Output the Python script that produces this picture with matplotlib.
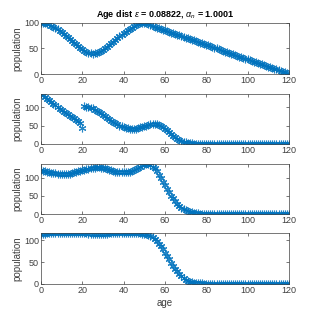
import numpy as np
import matplotlib.pyplot as plt

plt.rcParams['font.family'] = ['Liberation Sans Narrow', 'Liberation Sans', 'DejaVu Sans']
plt.rcParams['mathtext.fontset'] = 'custom'
plt.rcParams['mathtext.rm'] = 'Liberation Sans'
plt.rcParams['mathtext.it'] = 'Liberation Sans:italic'

age = np.arange(0, 121)

# population by age
pop1 = [100, 100, 99, 98, 97, 95, 93, 90, 88, 85,
        82, 79, 75, 72, 68, 65, 61, 58, 54, 51,
        49, 46, 44, 42, 41, 40, 41, 41, 43, 45,
        48, 50, 53, 56, 60, 63, 67, 70, 74, 77,
        80, 83, 86, 89, 91, 94, 96, 97, 99, 100,
        100, 99, 97, 96, 94, 93, 91, 90, 89, 87,
        86, 84, 83, 81, 80, 79, 77, 76, 74, 73,
        71, 70, 69, 67, 66, 64, 63, 61, 60, 59,
        57, 56, 54, 53, 51, 50, 49, 47, 46, 44,
        43, 41, 40, 39, 37, 36, 34, 33, 31, 30,
        29, 27, 26, 24, 23, 21, 20, 19, 17, 16,
        14, 13, 11, 10, 9, 7, 6, 4, 3, 1, 0]

pop2 = [137, 133, 128, 124, 119, 115, 110, 106, 101, 96,
        92, 88, 84, 81, 77, 74, 70, 66, 62, 56,
        44, 104, 102, 101, 99, 97, 94, 91, 88, 84,
        79, 75, 71, 67, 63, 60, 56, 53, 50, 48,
        46, 44, 43, 42, 42, 42, 42, 43, 45, 46,
        48, 50, 52, 54, 55, 55, 54, 52, 50, 46,
        42, 37, 32, 27, 22, 18, 14, 11, 8, 6,
        5, 3, 2, 2, 1, 1, 0, 0, 0, 0,
        0, 0, 0, 0, 0, 0, 0, 0, 0, 0,
        0, 0, 0, 0, 0, 0, 0, 0, 0, 0,
        0, 0, 0, 0, 0, 0, 0, 0, 0, 0,
        0, 0, 0, 0, 0, 0, 0, 0, 0, 0, 0]

pop3 = [120, 119, 118, 117, 115, 114, 113, 112, 111, 111,
        110, 110, 110, 110, 111, 114, 115, 116, 118, 119,
        121, 122, 124, 125, 126, 127, 128, 129, 129, 128,
        127, 126, 124, 122, 120, 119, 117, 116, 115, 115,
        115, 115, 115, 116, 119, 122, 125, 128, 131, 134,
        135, 137, 138, 136, 131, 126, 118, 108, 98, 89,
        79, 70, 60, 51, 43, 35, 29, 23, 18, 14,
        11, 8, 6, 5, 4, 3, 2, 1, 1, 1,
        0, 0, 0, 0, 0, 0, 0, 0, 0, 0,
        0, 0, 0, 0, 0, 0, 0, 0, 0, 0,
        0, 0, 0, 0, 0, 0, 0, 0, 0, 0,
        0, 0, 0, 0, 0, 0, 0, 0, 0, 0, 0]

pop4 = [115, 115, 115, 116, 116, 116, 116, 117, 117, 117,
        117, 117, 117, 117, 117, 117, 116, 116, 116, 116,
        116, 116, 116, 115, 115, 115, 115, 115, 115, 115,
        115, 115, 115, 116, 116, 116, 116, 116, 117, 117,
        117, 117, 117, 117, 117, 116, 116, 116, 116, 115,
        115, 114, 113, 110, 107, 103, 98, 92, 86, 79,
        72, 64, 57, 49, 42, 35, 29, 23, 18, 14,
        10, 7, 5, 4, 3, 2, 1, 1, 1, 0,
        0, 0, 0, 0, 0, 0, 0, 0, 0, 0,
        0, 0, 0, 0, 0, 0, 0, 0, 0, 0,
        0, 0, 0, 0, 0, 0, 0, 0, 0, 0,
        0, 0, 0, 0, 0, 0, 0, 0, 0, 0, 0]

series = [pop1, pop2, pop3, pop4]
xticks = [0, 20, 40, 60, 80, 100, 120]
yticks = [0, 50, 100]

# panel boxes in figure fractions [left, bottom, width, height]
boxes = [[0.1285, 0.768, 0.777, 0.160],
         [0.1285, 0.549, 0.777, 0.157],
         [0.1285, 0.329, 0.777, 0.157],
         [0.1285, 0.110, 0.777, 0.160]]

fig = plt.figure(figsize=(3.19, 3.19), dpi=100)
blue = '#0072BD'
edge = '#404040'

for i, (pop, box) in enumerate(zip(series, boxes)):
    ax = fig.add_axes(box)
    ax.plot(age, pop, linestyle='none', marker=(6, 2, 0), markersize=5.5,
            markeredgewidth=0.8, color=blue, alpha=0.85)
    ax.set_xlim(0, 120)
    ax.set_ylim(0, max(pop))
    ax.set_xticks(xticks)
    ax.set_yticks(yticks)
    ax.tick_params(direction='in', length=2, width=0.5, labelsize=6.5,
                   colors=edge, top=True, right=True, pad=1.5)
    for s in ax.spines.values():
        s.set_linewidth(0.5)
        s.set_color(edge)
    ax.set_ylabel('population', fontsize=7, color=edge, labelpad=1)
    if i == 0:
        ax.set_title(r'Age dist $\epsilon$ = 0.08822, $\alpha_n$ = 1.0001',
                     fontsize=6.5, fontweight='bold', pad=4)
    if i == 3:
        ax.set_xlabel('age', fontsize=7, color=edge, labelpad=2)

fig.savefig('out.png', dpi=100)
